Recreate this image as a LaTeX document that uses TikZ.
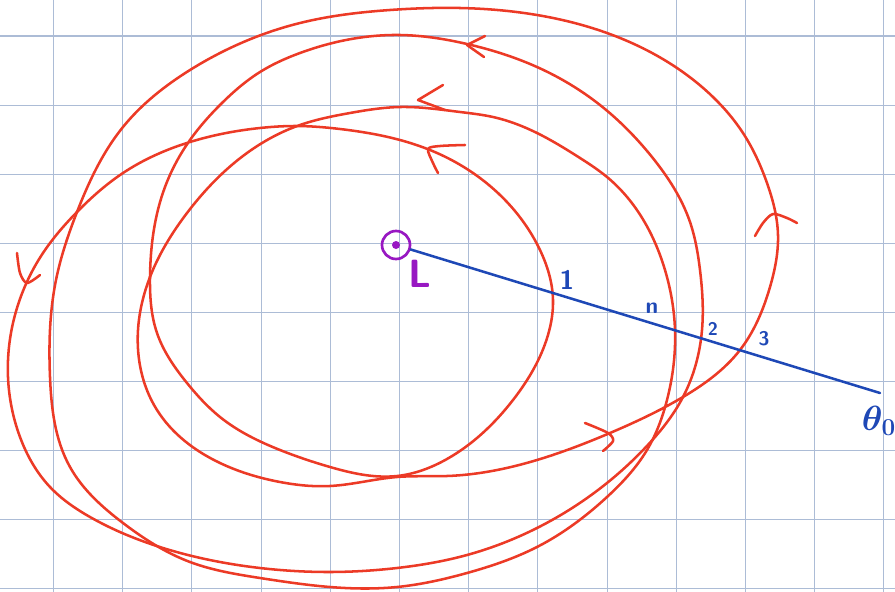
\documentclass[tikz,border=0pt]{standalone}
\usepackage{tikz}
\usepackage{amsmath}
\usepackage{bm}
\usetikzlibrary{positioning,calc,hobby}
\definecolor{gridblue}{RGB}{172,188,214}
\definecolor{orbitred}{RGB}{236,58,38}
\definecolor{secblue}{RGB}{30,72,182}
\definecolor{pointpurple}{RGB}{152,24,194}

\begin{document}
\begin{tikzpicture}[x=0.025cm, y=-0.025cm, line cap=round, line join=round,
        gridline/.style={draw=gridblue, line width=0.8pt},
        orbit/.style={draw=orbitred, line width=1.8pt},
        section/.style={draw=secblue, line width=1.8pt},
        seclabel/.style={text=secblue, inner sep=0pt, font=\sffamily\bfseries},
        fixpt/.style={circle, draw=pointpurple, line width=1.9pt, minimum size=28*0.025cm, inner sep=0pt}]
        \useasboundingbox (0,0) rectangle (895,592);

        % squared paper
        \foreach \i in {0,...,12}
            \draw[gridline] ({53.5+69.2*\i},0) -- ++(0,592);
        \foreach \j in {0,...,8}
            \draw[gridline] (0,{36+69.1*\j}) -- ++(895,0);

        % orbit through 1 and 2
        \draw[orbit, use Hobby shortcut, closed=true]
            (553,300) .. (540,250) .. (480,178) .. (430,150) .. (340,129) .. (295,126)
            .. (260,128) .. (190,142) .. (123,173) .. (77,212) .. (43,253) .. (13,323) .. (8,377)
            .. (20,437) .. (50,487) .. (90,517) .. (163,548) .. (260,568)
            .. (330,572) .. (397,568) .. (467,555) .. (537,528) .. (607,483) .. (645,448) .. (683,397)
            .. (702,330) .. (700,270) .. (690,222) .. (652,157) .. (600,105)
            .. (537,67) .. (467,44) .. (400,35) .. (300,53) .. (260,72) .. (222,103)
            .. (190,140) .. (165,187) .. (150,277) .. (157,333) .. (187,383) .. (220,417) .. (280,450)
            .. (330,467) .. (397,476) .. (447,459) .. (513,400) .. (548,335);

        % orbit through n and 3
        \draw[orbit, use Hobby shortcut, closed=true]
            (675,330) .. (665,270) .. (607,177) .. (580,158) .. (537,133) .. (493,117) .. (460,112) .. (400,107)
            .. (350,113) .. (300,125) .. (247,153) .. (187,213) .. (150,277)
            .. (138,330) .. (157,410) .. (220,463) .. (280,482) .. (330,486) .. (397,477)
            .. (447,476) .. (537,460) .. (610,433) .. (683,397) .. (740,350) .. (770,287)
            .. (778,235) .. (767,183) .. (743,133) .. (713,97) .. (677,68)
            .. (607,33) .. (537,15) .. (460,8) .. (390,10) .. (300,23)
            .. (190,70) .. (123,127) .. (77,212) .. (56,280) .. (50,377)
            .. (70,467) .. (123,523) .. (190,562) .. (260,578) .. (330,587)
            .. (397,587) .. (467,573) .. (537,547) .. (607,497) .. (647,450) .. (667,400);

        % direction marks
        \draw[orbit] (485,36) -- (467,45) -- (484,57);
        \draw[orbit] (443,85) -- (418,100) -- (445,110);
        \draw[orbit] plot[smooth] coordinates {(465,145) (440,146) (428,149) (433,163) (438,173)};
        \draw[orbit] plot[smooth] coordinates {(585,423) (608,433) (613,441) (603,451)};
        \draw[orbit] plot[smooth] coordinates {(755,236) (763,223) (773,214) (787,218) (797,223)};
        \draw[orbit] plot[smooth] coordinates {(17,253) (20,273) (27,283) (40,275)};

        % fixed point and section line
        \node[fixpt] (Lc) at (396,245) {};
        \fill[pointpurple] (Lc.center) circle (4);
        \node[text=pointpurple, font=\sffamily\bfseries\fontsize{28}{28}\selectfont, inner sep=0pt] (L) at (420,274) {L};
        \coordinate (secend) at (880,393);
        \path[section] (Lc) -- (secend);

        \node[seclabel, font=\sffamily\bfseries\fontsize{19}{19}\selectfont] (p1) at (567,280) {1};
        \node[seclabel, font=\sffamily\bfseries\fontsize{16}{16}\selectfont] (pn) at (652,308) {n};
        \node[seclabel, font=\sffamily\bfseries\fontsize{13}{13}\selectfont] (p2) at (713,329) {2};
        \node[seclabel, font=\sffamily\bfseries\fontsize{14}{14}\selectfont] (p3) at (764,339) {3};
        \node[seclabel, font=\fontsize{25}{25}\selectfont] (theta0) at (879,421) {$\bm{\theta}_{\bm{0}}$};
\end{tikzpicture}
\end{document}
